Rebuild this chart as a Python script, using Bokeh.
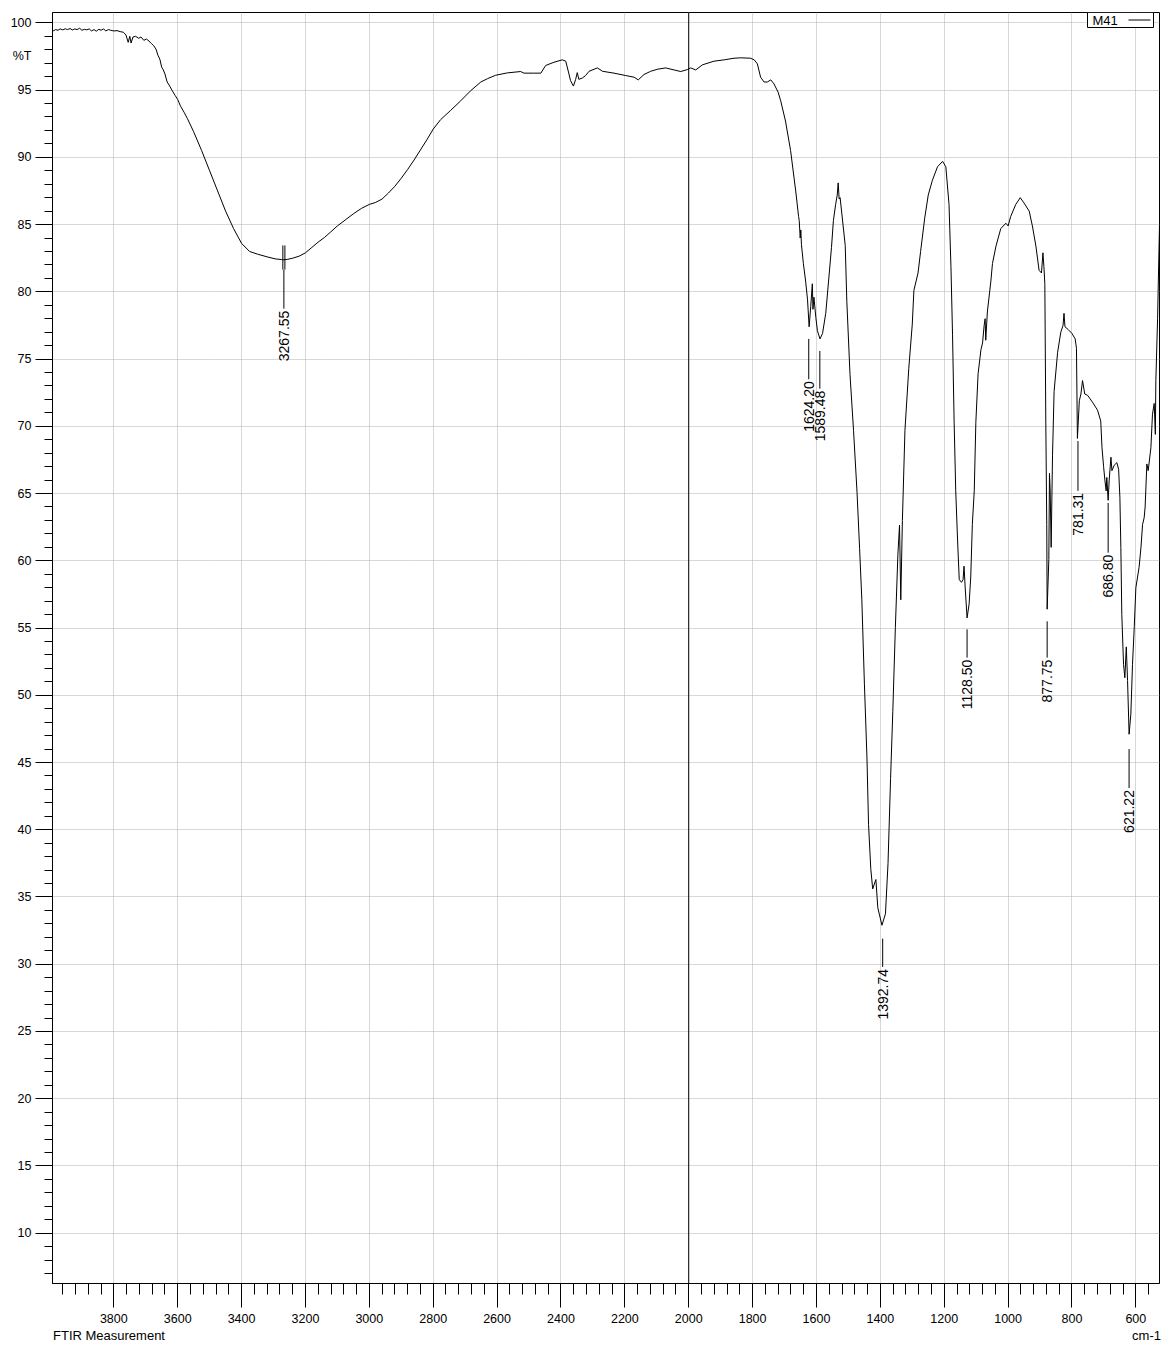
import math
from bokeh.plotting import figure
from bokeh.models import Range1d, FixedTicker, Span, LinearAxis
from bokeh.core.properties import value
from bokeh.embed import file_html
from bokeh.resources import INLINE

# ---------------- data ----------------
wavenumber = [
    3990, 3982, 3975, 3968, 3960, 3952, 3945, 3937, 3930, 3922, 3915, 3907, 3900, 3892, 3885, 3877,
    3870, 3862, 3855, 3847, 3840, 3832, 3825, 3817, 3810, 3800, 3790, 3780, 3770, 3762, 3755, 3750,
    3746, 3740, 3732, 3722, 3715, 3706, 3698, 3690, 3682, 3675, 3668, 3662, 3656, 3650, 3645, 3640,
    3633, 3625, 3617, 3608, 3600, 3591, 3580, 3570, 3550, 3525, 3500, 3475, 3450, 3425, 3400, 3375,
    3350, 3320, 3295, 3275, 3267, 3255, 3240, 3220, 3200, 3180, 3160, 3140, 3121, 3100, 3075, 3050,
    3025, 3000, 2980, 2960, 2940, 2920, 2900, 2880, 2860, 2840, 2820, 2800, 2777, 2745, 2714, 2683,
    2651, 2630, 2605, 2568, 2526, 2516, 2485, 2463, 2448, 2422, 2396, 2385, 2375, 2370, 2361, 2354,
    2349, 2344, 2333, 2323, 2312, 2286, 2270, 2234, 2197, 2171, 2158, 2140, 2119, 2098, 2072, 2046,
    2025, 2004, 1994, 1978, 1957, 1921, 1889, 1858, 1837, 1806, 1795, 1785, 1775, 1764, 1754, 1743,
    1733, 1720, 1712, 1697, 1681, 1665, 1656, 1654, 1651, 1649, 1647, 1641, 1634, 1628, 1623, 1618,
    1613, 1611, 1608, 1602, 1597, 1589, 1581, 1571, 1561, 1553, 1547, 1540, 1535, 1532, 1529, 1526,
    1510, 1505, 1495, 1484, 1473, 1465, 1458, 1450, 1442, 1437, 1430, 1424, 1414, 1408, 1395, 1384,
    1376, 1368, 1361, 1353, 1345, 1340, 1336, 1331, 1323, 1311, 1300, 1295, 1282, 1274, 1261, 1250,
    1237, 1221, 1205, 1195, 1185, 1179, 1174, 1169, 1164, 1158, 1153, 1146, 1141, 1138, 1134.5, 1128.5,
    1122, 1117, 1112, 1106, 1101, 1094, 1085, 1080, 1075, 1072, 1070, 1065, 1054, 1049, 1038, 1023,
    1007, 1000, 992, 976, 962, 950, 934, 924, 913, 903, 895.5, 891, 888, 885, 882, 879,
    877.75, 872.5, 870.5, 868.3, 865.2, 861, 856, 845, 835, 828, 825, 822, 812, 800, 790, 786,
    783, 777, 772, 767, 760, 751, 736, 720, 710, 706, 701, 697, 693, 691, 686.8, 683.5,
    678, 675, 668, 659.5, 654, 650, 647, 644, 638.6, 634.5, 630, 626, 621.2, 615.7, 610.5, 605,
    600, 590, 584, 579, 574, 571, 565.6, 561.4, 553, 548, 542.6, 539, 537.4, 532, 526,
]
transmittance = [
    99.40, 99.50, 99.45, 99.55, 99.48, 99.56, 99.50, 99.58, 99.47, 99.55, 99.50, 99.60, 99.45, 99.52, 99.48, 99.55,
    99.40, 99.50, 99.38, 99.52, 99.45, 99.55, 99.40, 99.50, 99.45, 99.40, 99.42, 99.35, 99.30, 99.10, 98.55, 99.00,
    98.50, 98.95, 99.00, 98.85, 98.95, 98.70, 98.80, 98.65, 98.45, 98.30, 98.05, 97.60, 97.30, 96.70, 96.50, 96.20,
    95.60, 95.30, 94.95, 94.60, 94.30, 93.80, 93.35, 92.90, 91.90, 90.50, 89.00, 87.50, 86.00, 84.70, 83.60, 83.00,
    82.80, 82.60, 82.45, 82.40, 82.38, 82.42, 82.50, 82.65, 82.90, 83.30, 83.70, 84.05, 84.45, 84.90, 85.35, 85.80,
    86.20, 86.50, 86.65, 86.90, 87.35, 87.85, 88.45, 89.10, 89.80, 90.55, 91.30, 92.10, 92.80, 93.50, 94.20, 94.95,
    95.60, 95.85, 96.10, 96.28, 96.38, 96.26, 96.26, 96.26, 96.83, 97.07, 97.25, 97.15, 96.20, 95.70, 95.30, 95.80,
    96.30, 95.80, 95.90, 96.08, 96.40, 96.65, 96.40, 96.26, 96.08, 95.96, 95.76, 96.16, 96.40, 96.55, 96.65, 96.50,
    96.38, 96.53, 96.65, 96.50, 96.88, 97.15, 97.25, 97.37, 97.40, 97.37, 97.25, 96.95, 95.96, 95.60, 95.60, 95.76,
    95.46, 94.84, 94.20, 92.70, 90.50, 87.50, 85.60, 85.30, 84.00, 84.60, 83.50, 82.10, 80.80, 79.40, 77.40, 78.90,
    80.60, 78.70, 79.60, 78.10, 77.10, 76.50, 76.90, 78.40, 81.10, 83.30, 85.30, 86.50, 87.20, 88.10, 86.90, 87.00,
    83.45, 79.30, 73.85, 69.70, 65.10, 60.90, 57.10, 50.90, 45.40, 40.40, 37.10, 35.60, 36.30, 34.20, 32.90, 33.75,
    37.50, 43.80, 48.80, 55.05, 60.50, 62.65, 57.10, 63.00, 69.70, 74.30, 77.60, 80.10, 81.40, 83.00, 85.50, 87.20,
    88.30, 89.30, 89.70, 89.30, 86.50, 81.90, 76.80, 70.30, 65.20, 61.40, 58.60, 58.40, 58.60, 59.60, 58.05, 55.75,
    56.80, 58.80, 62.70, 65.20, 70.30, 73.90, 75.70, 76.20, 77.50, 78.00, 76.40, 78.50, 80.80, 82.10, 83.40, 84.70,
    85.10, 84.90, 85.60, 86.50, 87.00, 86.60, 86.00, 84.90, 83.40, 81.60, 81.40, 82.90, 81.90, 80.60, 70.30, 62.70,
    56.40, 60.10, 66.50, 65.20, 61.00, 67.80, 72.60, 75.50, 77.00, 77.50, 78.40, 77.40, 77.20, 76.90, 76.50, 75.80,
    69.10, 71.90, 72.40, 73.40, 72.40, 72.30, 71.80, 71.20, 70.40, 68.40, 67.00, 66.00, 65.20, 66.20, 64.50, 66.00,
    67.70, 66.70, 67.10, 67.30, 66.80, 64.70, 61.00, 56.00, 52.30, 51.30, 53.60, 51.10, 47.10, 48.60, 52.30, 55.10,
    58.00, 59.50, 61.00, 62.70, 63.20, 64.00, 67.20, 66.70, 68.40, 70.90, 71.70, 69.40, 73.40, 78.00, 85.00,
]

peak_wavenumbers = [3267.55, 1624.20, 1589.48, 1392.74, 1128.50, 877.75, 781.31, 686.80, 621.22]
peak_labels = ["3267.55", "1624.20", "1589.48", "1392.74", "1128.50", "877.75", "781.31", "686.80", "621.22"]

x_major_ticks = [600, 800, 1000, 1200, 1400, 1600, 1800, 2000, 2200, 2400, 2600, 2800, 3000, 3200, 3400, 3600, 3800]
y_major_ticks = [10, 15, 20, 25, 30, 35, 40, 45, 50, 55, 60, 65, 70, 75, 80, 85, 90, 95, 100]
series_name = "M41"
y_unit_label = "%T"
x_unit_label = "cm-1"
x_caption = "FTIR Measurement"

# ---------------- layout (label leader lines, in %T) ----------------
leader_top = [81.65, 76.5, 75.6, 31.9, 54.9, 55.5, 68.9, 64.3, 46.0]
leader_bottom = [78.75, 73.5, 72.8, 29.8, 52.8, 52.8, 65.2, 60.6, 43.1]

X_START, X_END = 3992.0, 526.0
Y_START, Y_END = 6.26, 100.77
FW, FH = 1107, 1271
FONT = "Liberation Sans"
TICK_FS = "12.5px"
CAP_FS = "13px"


def fx(px):  # frame-relative pixel -> wavenumber
    return X_START + px * (X_END - X_START) / FW


def fy(py):  # frame-relative pixel from top -> %T
    return Y_END - py * (Y_END - Y_START) / FH


p = figure(
    frame_width=FW, frame_height=FH,
    min_border_left=52, min_border_right=5, min_border_top=12, min_border_bottom=63,
    x_range=Range1d(X_START, X_END), y_range=Range1d(Y_START, Y_END),
    output_backend="svg", toolbar_location=None,
    background_fill_color="white", border_fill_color="white",
)
p.outline_line_color = "black"
p.outline_line_width = 1

xa = p.below[0]
ya = p.left[0]
xa.ticker = FixedTicker(ticks=x_major_ticks, minor_ticks=list(range(560, 3992, 40)))
ya.ticker = FixedTicker(ticks=y_major_ticks, minor_ticks=list(range(7, 101)))
for ax in (xa, ya):
    ax.axis_line_color = "black"
    ax.major_tick_line_color = "black"
    ax.minor_tick_line_color = "black"
    ax.major_tick_in = 0
    ax.minor_tick_in = 0
    ax.major_label_text_font = FONT
    ax.major_label_text_font_size = TICK_FS
    ax.major_label_text_color = "black"
xa.major_tick_out = 24
xa.minor_tick_out = 11
xa.major_label_standoff = 6
ya.major_tick_out = 17
ya.minor_tick_out = 8
ya.major_label_standoff = 0
ya.major_label_overrides = {v: "" for v in y_major_ticks}

# outer label axis on the left: numbers + "%T"
y_label_pos = fy(43)
yb = LinearAxis(
    ticker=FixedTicker(ticks=y_major_ticks + [y_label_pos], minor_ticks=[]),
    major_label_overrides={y_label_pos: y_unit_label},
    axis_line_color=None, major_tick_line_color=None, minor_tick_line_color=None,
    major_tick_out=0, major_tick_in=0, minor_tick_out=0, minor_tick_in=0,
    major_label_standoff=4, major_label_text_font=FONT, major_label_text_font_size=TICK_FS,
    major_label_text_color="black",
)
p.add_layout(yb, "left")

# outer caption axis below: "FTIR Measurement" ... "cm-1"
cap_left = fx(56.5)
cap_right = fx(1094)
xc = LinearAxis(
    ticker=FixedTicker(ticks=[cap_left, cap_right], minor_ticks=[]),
    major_label_overrides={cap_left: x_caption, cap_right: x_unit_label},
    axis_line_color=None, major_tick_line_color=None, minor_tick_line_color=None,
    major_tick_out=0, major_tick_in=0, minor_tick_out=0, minor_tick_in=0,
    major_label_standoff=2, major_label_text_font=FONT, major_label_text_font_size=CAP_FS,
    major_label_text_color="black",
)
p.add_layout(xc, "below")

p.xgrid.grid_line_color = "#b0b0b0"
p.ygrid.grid_line_color = "#b0b0b0"
p.xgrid.grid_line_dash = "1 1"
p.ygrid.grid_line_dash = "1 1"

p.add_layout(Span(location=2000, dimension="height", line_color="black", line_width=1))

# spectrum
p.line(wavenumber, transmittance, line_color="black", line_width=1)

# peak leader lines and labels
p.segment(x0=peak_wavenumbers, x1=peak_wavenumbers, y0=leader_top, y1=leader_bottom,
          line_color="black", line_width=1)
mk = [peak_wavenumbers[0] - 3.2, peak_wavenumbers[0] + 3.2]
p.segment(x0=mk, x1=mk, y0=[83.45, 83.45], y1=[leader_top[0], leader_top[0]],
          line_color="black", line_width=1)
p.text(x=peak_wavenumbers, y=[b - 0.15 for b in leader_bottom], text=peak_labels,
       angle=math.pi / 2, text_align="right", text_baseline="middle",
       text_font=value(FONT), text_font_size="14px", text_color="black")

# legend box "M41 ——"
p.quad(left=[fx(1035)], right=[fx(1101)], top=[Y_END], bottom=[fy(15)],
       fill_color="white", line_color="black", line_width=1)
p.text(x=[fx(1040)], y=[fy(7.5)], text=[series_name], text_align="left", text_baseline="middle",
       text_font=value(FONT), text_font_size="13px", text_color="black")
p.segment(x0=[fx(1076)], x1=[fx(1098)], y0=[fy(7.5)], y1=[fy(7.5)], line_color="black", line_width=1)

open("out.html", "w").write(file_html(p, INLINE))
